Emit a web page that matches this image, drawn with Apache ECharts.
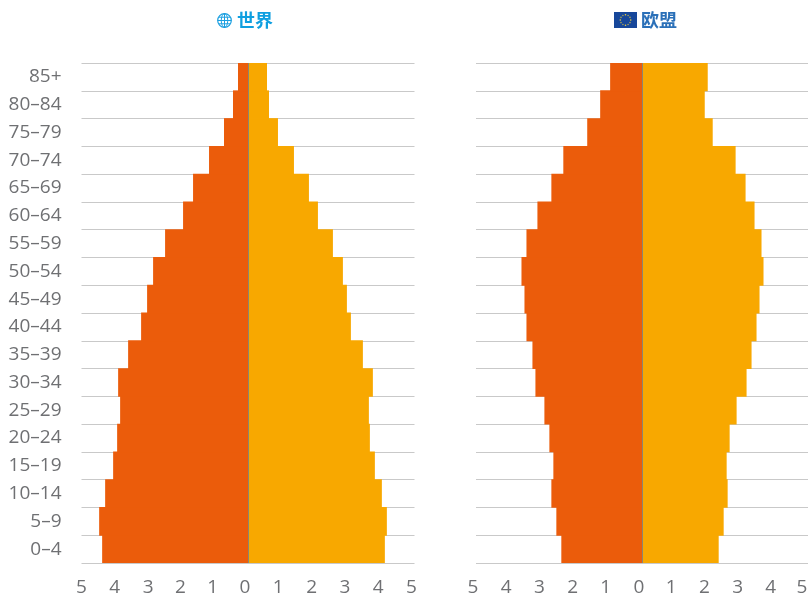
<!DOCTYPE html>
<html>
<head>
<meta charset="utf-8">
<style>html,body{margin:0;padding:0;background:#fff}#chart{width:808px;height:598px}</style>
<script src="https://cdn.jsdelivr.net/npm/echarts@6/dist/echarts.min.js"></script>
</head>
<body>
<div id="chart"></div>
<script>
// Population share by five-year age group, in percent
const ageGroups = ['0–4','5–9','10–14','15–19','20–24','25–29','30–34','35–39','40–44','45–49','50–54','55–59','60–64','65–69','70–74','75–79','80–84','85+'];
const worldLeft  = [4.38,4.47,4.29,4.05,3.93,3.84,3.90,3.60,3.21,3.03,2.85,2.49,1.95,1.65,1.17,0.72,0.45,0.30];
const worldRight = [4.11,4.17,4.02,3.81,3.66,3.63,3.75,3.45,3.09,2.97,2.85,2.55,2.10,1.83,1.38,0.90,0.63,0.57];
const euLeft  = [2.43,2.58,2.73,2.67,2.79,2.94,3.21,3.30,3.48,3.54,3.63,3.48,3.15,2.73,2.37,1.65,1.26,0.96];
const euRight = [2.31,2.46,2.58,2.55,2.64,2.85,3.15,3.30,3.45,3.54,3.66,3.60,3.39,3.12,2.82,2.13,1.89,1.98];
const tickFont = '"Open Sans", sans-serif';
const tickColor = '#6f7073';

// Right padding per tick nudges the numbers left of their gridline position
const tickPad = [
  v => (v <= -3 ? 0 : v === -2 ? 2 : v === -1 ? 4 : 6),
  v => (v === 5 ? 12 : v >= 1 ? 8 : 6)
];
const tickRich = {};
[0, 2, 4, 6, 8, 12].forEach(p => {
  tickRich['p' + p] = {fontFamily: tickFont, fontSize: 19, color: tickColor, padding: [0, p, 0, 0]};
});

function pyramidGrid(i) {
  return {
    xAxis: {
      gridIndex: i, type: 'value', min: -5, max: 5, interval: 1,
      axisLine: {show: false}, axisTick: {show: false}, splitLine: {show: false},
      axisLabel: {
        margin: 15, showMinLabel: true, showMaxLabel: true,
        formatter: v => '{p' + tickPad[i](v) + '|' + Math.abs(v) + '}',
        rich: tickRich
      }
    },
    yAxis: {
      gridIndex: i, type: 'category', data: ageGroups,
      axisLine: {show: false, onZero: false}, axisTick: {show: false},
      axisLabel: {show: i === 0, interval: 0, margin: 20, fontFamily: tickFont, fontSize: 19, color: tickColor},
      splitLine: {show: true, interval: 0, lineStyle: {color: '#c9c9c9', width: 1}}
    }
  };
}
function bar(i, values, color, withZeroLine) {
  // Slightly over-wide bars so that neighbouring rows close up without a seam
  const s = {
    type: 'bar', xAxisIndex: i, yAxisIndex: i, barWidth: '103%', barGap: '-100%',
    data: values, itemStyle: {color}, silent: true, animation: false
  };
  if (withZeroLine) {
    s.markLine = {
      silent: true, symbol: 'none', animation: false, label: {show: false},
      lineStyle: {color: '#8c8670', width: 1, type: 'solid'},
      data: [{xAxis: 0}]
    };
  }
  return s;
}
const g0 = pyramidGrid(0), g1 = pyramidGrid(1);

// Heading marks: a small globe and the EU flag
const globe = {
  type: 'group', x: 224.5, y: 20.5,
  children: [
    {type: 'circle', shape: {r: 6.8}, style: {fill: '#fff', stroke: '#1a9fe0', lineWidth: 1.2}},
    {type: 'ellipse', shape: {rx: 3.2, ry: 6.8}, style: {fill: 'none', stroke: '#1a9fe0', lineWidth: 1}},
    {type: 'line', shape: {x1: 0, y1: -6.8, x2: 0, y2: 6.8}, style: {stroke: '#1a9fe0', lineWidth: 1}},
    {type: 'line', shape: {x1: -6.8, y1: 0, x2: 6.8, y2: 0}, style: {stroke: '#1a9fe0', lineWidth: 1}},
    {type: 'line', shape: {x1: -5.8, y1: -3.3, x2: 5.8, y2: -3.3}, style: {stroke: '#1a9fe0', lineWidth: 1}},
    {type: 'line', shape: {x1: -5.8, y1: 3.3, x2: 5.8, y2: 3.3}, style: {stroke: '#1a9fe0', lineWidth: 1}}
  ]
};
const flagStars = [];
for (let k = 0; k < 12; k++) {
  const a = k * Math.PI / 6;
  flagStars.push({type: 'circle', shape: {cx: 11.5 + 5.2 * Math.cos(a), cy: 8 + 5.2 * Math.sin(a), r: 0.8}, style: {fill: k % 3 === 0 ? '#f2cf3a' : '#a9a55a'}});
}
const flag = {
  type: 'group', x: 614, y: 12,
  children: [{type: 'rect', shape: {x: 0, y: 0, width: 23, height: 16}, style: {fill: '#17479a'}}].concat(flagStars)
};
const heading = (x, text, color) => ({
  type: 'text', x, y: 20.5,
  style: {text, fontFamily: '"Noto Sans CJK SC"', fontWeight: 'bold', fontSize: 18, fill: color, textAlign: 'left', textVerticalAlign: 'middle'}
});

const chart = echarts.init(document.getElementById('chart'), null, {renderer: 'canvas'});
chart.setOption({
  animation: false,
  backgroundColor: '#fff',
  grid: [
    {left: 81.5, width: 333, top: 63, height: 500, outerBoundsMode: 'none'},
    {left: 476, width: 332, top: 63, height: 500, outerBoundsMode: 'none'}
  ],
  xAxis: [g0.xAxis, g1.xAxis],
  yAxis: [g0.yAxis, g1.yAxis],
  series: [
    bar(0, worldLeft.map(v => -v), '#eb5c0b', false),
    bar(0, worldRight, '#f8a800', true),
    bar(1, euLeft.map(v => -v), '#eb5c0b', false),
    bar(1, euRight, '#f8a800', true)
  ],
  graphic: [globe, flag, heading(237, '世界', '#0f9fe0'), heading(641, '欧盟', '#2b70b8')]
});
</script>
</body>
</html>
